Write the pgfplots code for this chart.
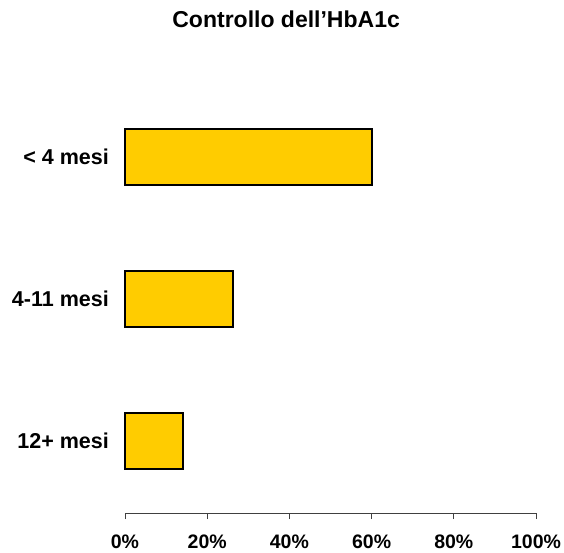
\documentclass[border=0pt]{standalone}
\usepackage{pgfplots}
\pgfplotsset{compat=1.18}
\usepackage{fontspec}
\setmainfont{Liberation Sans}
\definecolor{bargold}{HTML}{FFCC00}
\begin{document}
\begin{tikzpicture}
\begin{axis}[
  at={(0,0)}, anchor=south west,
  scale only axis,
  width=411pt, height=427pt,
  xmin=0, xmax=100,
  ymin=-0.507, ymax=2.5,
  enlarge x limits=false,
  axis x line=bottom, axis y line=left,
  x axis line style={-, draw=black!75, line width=0.9pt},
  y axis line style={draw=none},
  ytick style={draw=none},
  xtick={0,20,40,60,80,100},
  xtick style={draw=black!75, line width=0.9pt},
  tick align=outside,
  major tick length=6pt,
  xticklabel={\pgfmathprintnumber{\tick}\%},
  /pgf/number format/assume math mode=true,
  font=\fontsize{19.5}{23}\selectfont\bfseries,
  xticklabel style={anchor=base, inner sep=0pt, yshift=-29pt, font=\fontsize{19.5}{23}\selectfont\bfseries},
  ytick={0,1,2},
  yticklabels={12+ mesi, 4-11 mesi, < 4 mesi},
  yticklabel style={anchor=east, inner sep=0pt, xshift=-10pt, font=\fontsize{21.5}{25}\selectfont\bfseries},
  title={Controllo dell'HbA1c},
  title style={at={(axis description cs:0.392,1.1218)}, anchor=base, inner sep=0pt, font=\fontsize{23}{27}\selectfont\bfseries},
  clip=false,
]
\addplot[xbar, bar width=0.4, fill=bargold, draw=black, line width=2pt]
  coordinates {(14,0) (26.3,1) (60,2)};
\end{axis}
\path[use as bounding box] (-125pt,-39pt) rectangle (439pt,513pt);
\end{tikzpicture}
\end{document}
